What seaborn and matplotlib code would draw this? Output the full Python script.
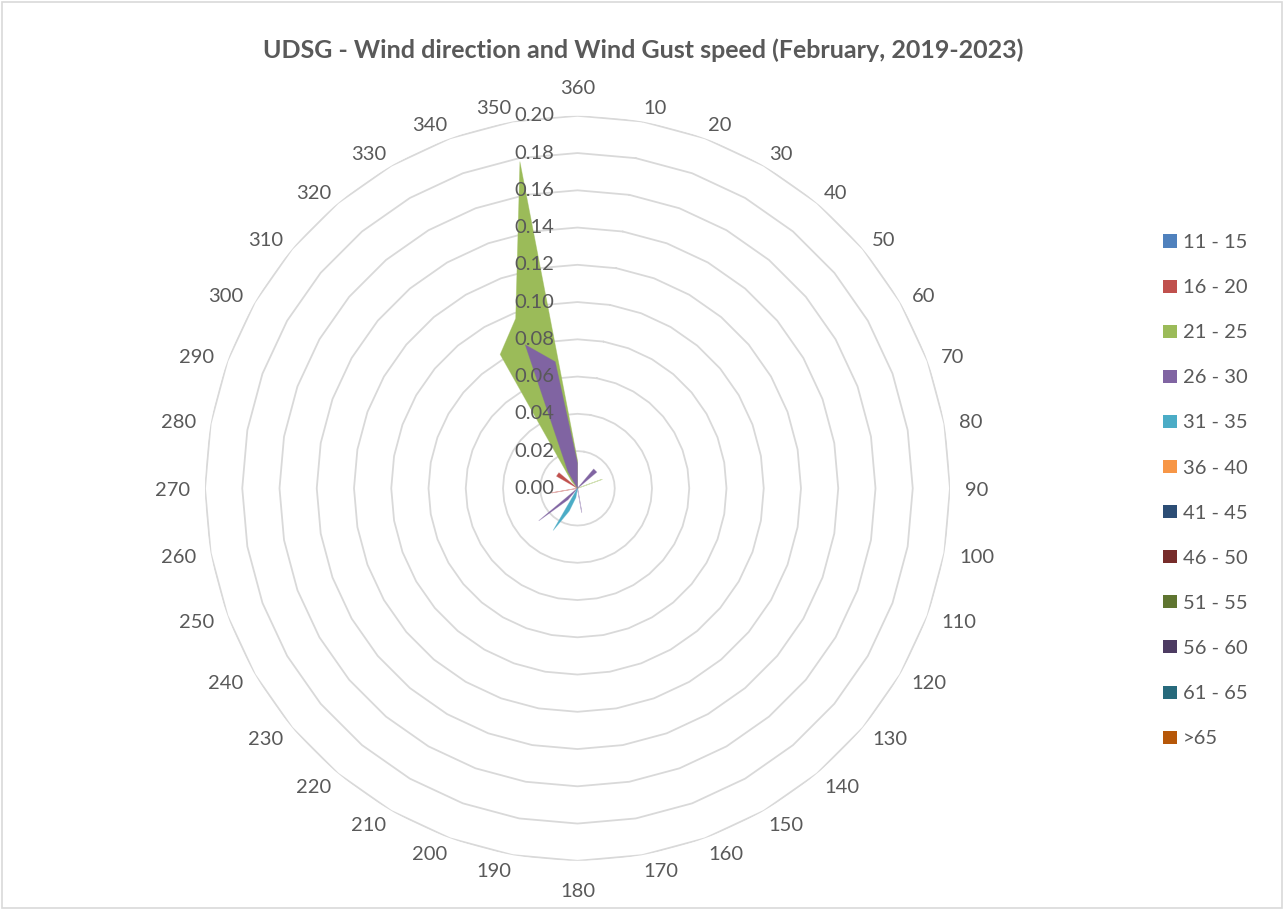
import numpy as np
import matplotlib
matplotlib.use("Agg")
import matplotlib.pyplot as plt
from matplotlib.patches import Rectangle
import seaborn as sns

# ---------------- data ----------------
directions = list(range(10, 361, 10))  # 10 .. 360
speed_bins = ["11 - 15", "16 - 20", "21 - 25", "26 - 30", "31 - 35", "36 - 40",
              "41 - 45", "46 - 50", "51 - 55", "56 - 60", "61 - 65", ">65"]
bin_colors = ["#4F81BD", "#C0504D", "#9BBB59", "#8064A2", "#4BACC6", "#F79646",
              "#2C4D75", "#772C2A", "#5F7530", "#4D3B62", "#276A7C", "#B65708"]

#              10   20   30   40   50   60   70   80   90  100  110  120
#             130  140  150  160  170  180  190  200  210  220  230  240
#             250  260  270  280  290  300  310  320  330  340  350  360
s_11_15 = [0, 0, 0, 0, 0, 0, 0, 0, 0, 0, 0, 0,
           0, 0, 0, 0, 0, 0, 0, 0, 0, 0, 0, 0,
           0, 0, 0, 0, 0, 0, 0, 0, 0, 0, 0, 0]
s_16_20 = [0, 0, 0, 0, 0, 0, 0, 0, 0, 0, 0, 0,
           0, 0, 0, 0, 0, 0, 0, 0, 0, 0, 0, 0,
           0, 0.014, 0, 0, 0, 0.013, 0.013, 0, 0, 0, 0, 0]
s_21_25 = [0, 0, 0, 0, 0, 0, 0.014, 0, 0, 0, 0, 0,
           0, 0, 0, 0, 0, 0, 0, 0, 0, 0, 0, 0,
           0, 0, 0, 0, 0, 0, 0, 0.005, 0.083, 0.097, 0.178, 0.015]
s_26_30 = [0, 0, 0, 0.0135, 0.0135, 0, 0, 0, 0, 0, 0, 0,
           0, 0, 0, 0, 0.013, 0, 0, 0, 0, 0.008, 0.027, 0,
           0, 0, 0, 0, 0, 0, 0, 0, 0.010, 0.082, 0.069, 0.0135]
s_31_35 = [0, 0, 0, 0, 0, 0, 0, 0, 0, 0, 0, 0,
           0, 0, 0, 0, 0, 0, 0.005, 0.013, 0.026, 0, 0, 0,
           0, 0, 0, 0, 0, 0, 0, 0, 0, 0, 0, 0]
s_36_40 = [0] * 36
s_41_45 = [0] * 36
s_46_50 = [0] * 36
s_51_55 = [0] * 36
s_56_60 = [0] * 36
s_61_65 = [0] * 36
s_gt65 = [0] * 36
series = [s_11_15, s_16_20, s_21_25, s_26_30, s_31_35, s_36_40,
          s_41_45, s_46_50, s_51_55, s_56_60, s_61_65, s_gt65]
radial_ticks = [0.00, 0.02, 0.04, 0.06, 0.08, 0.10, 0.12, 0.14, 0.16, 0.18, 0.20]
title = "UDSG - Wind direction and Wind Gust speed (February, 2019-2023)"

# ---------------- style ----------------
sns.set_style("white")
plt.rcParams["font.family"] = ["Lato", "DejaVu Sans"]
palette = sns.color_palette(bin_colors)
TXT = "#595959"
GRID = "#D9D9D9"
FS = 14.5

W, H = 1283, 909
fig = plt.figure(figsize=(W / 100, H / 100), dpi=100)
fig.patch.set_facecolor("white")

cx, cy, R = 577.5, 488.3, 372.5
RMAX = 0.20
ax = fig.add_axes([(cx - R) / W, (H - cy - R) / H, 2 * R / W, 2 * R / H],
                  projection="polar")
ax.set_theta_zero_location("N")
ax.set_theta_direction(-1)
ax.grid(False)
ax.set_xticks([])
ax.set_yticks([])
ax.spines["polar"].set_visible(False)
ax.set_facecolor("none")

theta = np.deg2rad(directions)
theta_c = np.append(theta, theta[0])

# polygon gridlines (36-sided, Excel radar style)
for r in radial_ticks[1:]:
    ax.plot(theta_c, [r] * len(theta_c), color=GRID, lw=1.3, zorder=1)

# filled series
for vals, col in zip(series, palette):
    v = np.asarray(vals, dtype=float)
    if not v.any():
        continue
    vc = np.append(v, v[0])
    ax.fill(theta_c, vc, color=col, lw=0, zorder=2)
    sns.lineplot(x=theta_c, y=vc, sort=False, estimator=None, ax=ax,
                 color=col, lw=0.6, alpha=0.45, legend=False, zorder=2)
ax.set_xlabel("")
ax.set_ylabel("")
ax.set_ylim(0, RMAX)

# direction labels: text box anchored just outside the outer ring
digit_h = 0.72 * FS * 100 / 72
for d, th in zip(directions, theta):
    s, c = np.sin(th), np.cos(th)
    if abs(s) < 0.01:
        r_px = R + 22
    else:
        r_px = R + 8 + 7 * s * s
    ha = "left" if s > 0.01 else ("right" if s < -0.01 else "center")
    dy = -digit_h / 2 * (1 - np.sign(c) * abs(c) ** 3)
    ax.annotate(str(d), xy=(th, RMAX * r_px / R), xycoords="data",
                xytext=(0, dy), textcoords="offset pixels", ha=ha,
                va="baseline", fontsize=FS, color=TXT, annotation_clip=False)

# radial labels
for r in radial_ticks:
    ax.annotate(f"{r:.2f}", xy=(0, r), xycoords="data", xytext=(-23.5, 0),
                textcoords="offset pixels", ha="right", va="center",
                fontsize=FS, color=TXT, annotation_clip=False, zorder=3)

# title
fig.text(643.5 / W, 1 - 57.5 / H, title, ha="center", va="baseline",
         fontsize=18, fontweight="bold", color=TXT)

# legend (Excel-like column on the right)
for i, (lab, col) in enumerate(zip(speed_bins, palette)):
    yc = 241 + i * 45.1
    fig.add_artist(Rectangle((1163 / W, 1 - (yc + 6.5) / H), 14 / W, 13 / H,
                             transform=fig.transFigure, facecolor=col,
                             edgecolor=col, lw=0))
    fig.text(1183 / W, 1 - yc / H, lab, ha="left", va="center_baseline",
             fontsize=FS, color=TXT)

# chart border
fig.add_artist(Rectangle((1.5 / W, 1.5 / H), 1 - 3 / W, 1 - 3 / H,
                         transform=fig.transFigure, fill=False,
                         edgecolor=GRID, lw=1.2))

fig.savefig("out.png", dpi=100)
